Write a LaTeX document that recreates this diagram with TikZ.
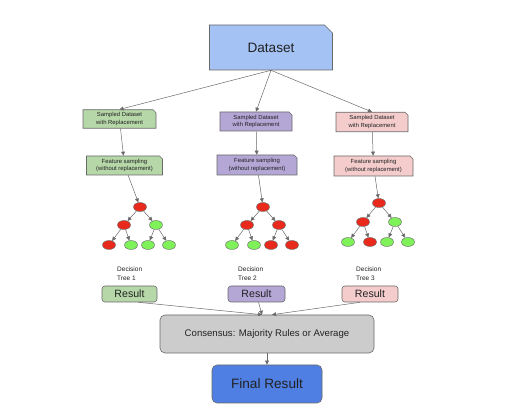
\documentclass[tikz,border=0pt]{standalone}
\usepackage{fontspec}
\setmainfont{Liberation Sans}
\usetikzlibrary{positioning,shapes.misc,shapes.geometric,arrows.meta}

\definecolor{dataBlue}{HTML}{A4C2F4}
\definecolor{treeGreen}{HTML}{B6D7A8}
\definecolor{treePurple}{HTML}{B4A7D6}
\definecolor{treePink}{HTML}{F4CCCC}
\definecolor{consGray}{HTML}{CCCCCC}
\definecolor{finalBlue}{HTML}{4F7FE2}
\definecolor{leafRed}{HTML}{E8291C}
\definecolor{leafGreen}{HTML}{7FF25A}
\definecolor{lineGray}{HTML}{6A6A6A}
\definecolor{inkGray}{HTML}{222222}

\tikzset{
  snipbox/.style={chamfered rectangle, chamfered rectangle corners=north east,
    chamfered rectangle sep=1.5pt, draw=lineGray, line width=0.6pt, inner sep=0pt,
    align=center, text=inkGray, font=\fontsize{5.9}{7.2}\selectfont},
  roundbox/.style={rectangle, rounded corners=3pt, draw=lineGray, line width=0.6pt,
    inner sep=0pt, align=center, text=inkGray},
  leaf/.style={ellipse, draw=lineGray, line width=0.4pt, inner sep=0pt,
    minimum width=13pt, minimum height=9pt},
  red leaf/.style={leaf, fill=leafRed},
  green leaf/.style={leaf, fill=leafGreen},
  arr/.style={draw=lineGray, line width=0.5pt, -{Triangle[length=4pt,width=3.8pt]}},
  treelabel/.style={align=left, anchor=west, text=inkGray, inner sep=0pt,
    font=\fontsize{6.5}{8.5}\selectfont}
}

\begin{document}
\begin{tikzpicture}[x=1pt, y=-1pt, node distance=18pt, on grid]

  \useasboundingbox[fill=white] (0,0) rectangle (507,406);

  % dataset and the three samples
  \node (data) [snipbox, fill=dataBlue, minimum width=123pt, minimum height=45pt,
    chamfered rectangle sep=4pt, font=\fontsize{13.6}{16}\selectfont] at (271,47.5) {Dataset};

  \node (samp1) [snipbox, fill=treeGreen, minimum width=73pt, minimum height=18.5pt] at (119.5,119) {Sampled Dataset\\with Replacement};
  \node (samp2) [snipbox, fill=treePurple, minimum width=72pt, minimum height=19pt] at (256,121.5) {Sampled Dataset\\with Replacement};
  \node (samp3) [snipbox, fill=treePink, minimum width=72pt, minimum height=19.5pt] at (372,122) {Sampled Dataset\\with Replacement};

  \node (feat1) [snipbox, fill=treeGreen, minimum width=76pt, minimum height=19pt] at (124.5,165.5) {Feature sampling\\(without replacement)};
  \node (feat2) [snipbox, fill=treePurple, minimum width=80pt, minimum height=20pt] at (257,165) {Feature sampling\\(without replacement)};
  \node (feat3) [snipbox, fill=treePink, minimum width=79pt, minimum height=20pt] at (373.5,166) {Feature sampling\\(without replacement)};

  % tree 1
  \node (t1r) [red leaf] at (140,207) {};
  \node (t1a) [red leaf, below left=18pt and 16pt of t1r] {};
  \node (t1b) [green leaf, below right=18pt and 16pt of t1r] {};
  \node (t1c) [red leaf, below left=20pt and 15pt of t1a] {};
  \node (t1d) [green leaf, below right=20pt and 7pt of t1a] {};
  \node (t1e) [green leaf, below left=20pt and 8pt of t1b] {};
  \node (t1f) [green leaf, below right=20pt and 13pt of t1b] {};

  % tree 2
  \node (t2r) [red leaf] at (263,207) {};
  \node (t2a) [red leaf, below left=18pt and 16pt of t2r] {};
  \node (t2b) [red leaf, below right=18pt and 16pt of t2r] {};
  \node (t2c) [green leaf, below left=20pt and 15pt of t2a] {};
  \node (t2d) [green leaf, below right=20pt and 7pt of t2a] {};
  \node (t2e) [red leaf, below left=20pt and 8pt of t2b] {};
  \node (t2f) [red leaf, below right=20pt and 13pt of t2b] {};

  % tree 3
  \node (t3r) [red leaf] at (379,203) {};
  \node (t3a) [red leaf, below left=19pt and 16pt of t3r] {};
  \node (t3b) [green leaf, below right=19pt and 16pt of t3r] {};
  \node (t3c) [green leaf, below left=20pt and 15pt of t3a] {};
  \node (t3d) [red leaf, below right=20pt and 7pt of t3a] {};
  \node (t3e) [green leaf, below left=20pt and 8pt of t3b] {};
  \node (t3f) [green leaf, below right=20pt and 13pt of t3b] {};

  % labels and results
  \node (lab1) [treelabel] at (117,273.5) {Decision\\Tree 1};
  \node (lab2) [treelabel] at (238,273.5) {Decision\\Tree 2};
  \node (lab3) [treelabel] at (356,273.5) {Decision\\Tree 3};

  \node (res1) [roundbox, fill=treeGreen, minimum width=55pt, minimum height=16pt,
    font=\fontsize{10.6}{12}\selectfont] at (129.5,294) {Result};
  \node (res2) [roundbox, fill=treePurple, minimum width=57pt, minimum height=16pt,
    font=\fontsize{10.6}{12}\selectfont] at (256.5,294) {Result};
  \node (res3) [roundbox, fill=treePink, minimum width=56pt, minimum height=16pt,
    font=\fontsize{10.6}{12}\selectfont] at (370,294) {Result};

  \node (cons) [roundbox, fill=consGray, rounded corners=5pt, minimum width=214pt,
    minimum height=38pt, font=\fontsize{9.6}{11}\selectfont] at (267,334) {Consensus: Majority Rules or Average};
  \node (final) [roundbox, fill=finalBlue, rounded corners=5pt, minimum width=110pt,
    minimum height=38pt, font=\fontsize{13.6}{16}\selectfont] at (267,384) {Final Result};

  % connectors
  \draw [arr] (data.south) -- (samp1.north);
  \draw [arr] (data.south) -- (samp2.north);
  \draw [arr] (data.south) -- (samp3.north);
  \draw [arr] (samp1) -- (feat1);
  \draw [arr] (samp2) -- (feat2);
  \draw [arr] (samp3) -- (feat3);
  \draw [arr] (feat1) -- (t1r);
  \draw [arr] (feat2) -- (t2r);
  \draw [arr] (feat3) -- (t3r);

  \draw [arr] (t1r) -- (t1a);
  \draw [arr] (t1r) -- (t1b);
  \draw [arr] (t1a) -- (t1c);
  \draw [arr] (t1a) -- (t1d);
  \draw [arr] (t1b) -- (t1e);
  \draw [arr] (t1b) -- (t1f);
  \draw [arr] (t2r) -- (t2a);
  \draw [arr] (t2r) -- (t2b);
  \draw [arr] (t2a) -- (t2c);
  \draw [arr] (t2a) -- (t2d);
  \draw [arr] (t2b) -- (t2e);
  \draw [arr] (t2b) -- (t2f);
  \draw [arr] (t3r) -- (t3a);
  \draw [arr] (t3r) -- (t3b);
  \draw [arr] (t3a) -- (t3c);
  \draw [arr] (t3a) -- (t3d);
  \draw [arr] (t3b) -- (t3e);
  \draw [arr] (t3b) -- (t3f);

  \draw [arr] ([xshift=9pt]res1.south) -- ([xshift=-5pt]cons.north);
  \draw [arr] ([xshift=2pt]res2.south) -- ([xshift=-5pt]cons.north);
  \draw [arr] ([xshift=-10pt]res3.south) -- ([xshift=5pt]cons.north);
  \draw [arr] (cons) -- (final);

\end{tikzpicture}
\end{document}
